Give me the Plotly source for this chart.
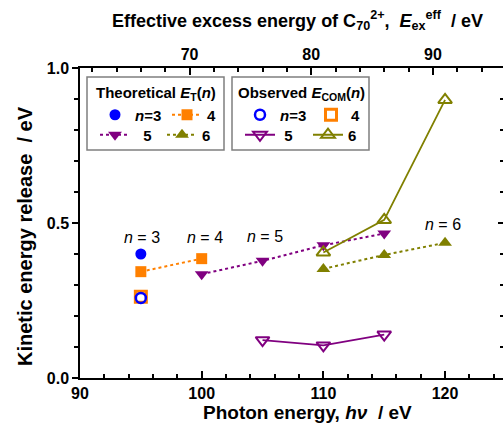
import plotly.graph_objects as go

# ---------------- data ----------------
photon_theo3 = [95]
ker_theo3 = [0.40]
photon_theo4 = [95, 100]
ker_theo4 = [0.343, 0.385]
photon_theo5 = [100, 105, 110, 115]
ker_theo5 = [0.335, 0.378, 0.428, 0.466]
photon_theo6 = [110, 115, 120]
ker_theo6 = [0.352, 0.397, 0.436]

photon_obs3 = [95]
ker_obs3 = [0.258]
photon_obs4 = [95]
ker_obs4 = [0.262]
photon_obs5 = [105, 110, 115]
ker_obs5 = [0.122, 0.105, 0.140]
photon_obs6 = [110, 115, 120]
ker_obs6 = [0.405, 0.510, 0.897]

label_text = ["<i>n</i> = 3", "<i>n</i> = 4", "<i>n</i> = 5", "<i>n</i> = 6"]
label_x = [95.1, 100.3, 105.2, 119.85]
label_y = [0.452, 0.452, 0.458, 0.494]

x_range = [90, 124.76]
excess_offset = 29.0   # photon energy - effective excess energy
x_ticks = [90, 100, 110, 120]
top_ticks = [70, 80, 90]

BLUE = "#0000ff"
ORANGE = "#ff8000"
PURPLE = "#800080"
OLIVE = "#808000"
FONT = "Arial, Liberation Sans, sans-serif"
NB = "\u00a0"

W, H = 503, 427
L, R, T, B = 80, 0, 68, 49
PW, PH = W - L - R, H - T - B


def px(xp):
    return (xp - L) / PW


def py(yp):
    return (H - B - yp) / PH


fig = go.Figure()

# theoretical
fig.add_trace(go.Scatter(x=photon_theo3, y=ker_theo3, mode="markers", name="<i>n</i>=3",
                         marker=dict(symbol="circle", size=11, color=BLUE),
                         legend="legend", legendrank=1))
fig.add_trace(go.Scatter(x=photon_theo4, y=ker_theo4, mode="lines+markers", name="4",
                         marker=dict(symbol="square", size=11, color=ORANGE),
                         line=dict(color=ORANGE, width=2, dash="3px,3px"),
                         legend="legend", legendrank=2))
fig.add_trace(go.Scatter(x=photon_theo5, y=ker_theo5, mode="lines+markers", name=NB + NB + "5",
                         marker=dict(symbol="triangle-down", size=12, color=PURPLE),
                         line=dict(color=PURPLE, width=2, dash="3px,3px"),
                         legend="legend2", legendrank=1))
fig.add_trace(go.Scatter(x=photon_theo6, y=ker_theo6, mode="lines+markers", name="6",
                         marker=dict(symbol="triangle-up", size=12, color=OLIVE),
                         line=dict(color=OLIVE, width=2, dash="3px,3px"),
                         legend="legend2", legendrank=2))
# observed
fig.add_trace(go.Scatter(x=photon_obs5, y=ker_obs5, mode="lines+markers", name=NB + "5",
                         marker=dict(symbol="triangle-down-open", size=12, color=PURPLE,
                                     line=dict(width=2)),
                         line=dict(color=PURPLE, width=1.8),
                         legend="legend4", legendrank=1))
fig.add_trace(go.Scatter(x=photon_obs6, y=ker_obs6, mode="lines+markers", name="6",
                         marker=dict(symbol="triangle-up-open", size=12, color=OLIVE,
                                     line=dict(width=2)),
                         line=dict(color=OLIVE, width=1.8),
                         legend="legend4", legendrank=2))
fig.add_trace(go.Scatter(x=photon_obs4, y=ker_obs4, mode="markers", name="4",
                         marker=dict(symbol="square-open", size=11, color=ORANGE,
                                     line=dict(width=3)),
                         legend="legend3", legendrank=2))
fig.add_trace(go.Scatter(x=photon_obs3, y=ker_obs3, mode="markers", name="<i>n</i>=3",
                         marker=dict(symbol="circle-open", size=10, color=BLUE,
                                     line=dict(width=2.5)),
                         legend="legend3", legendrank=1))

# helper traces creating the top x axis and right y axis
fig.add_trace(go.Scatter(x=[], y=[], xaxis="x2", yaxis="y", showlegend=False, hoverinfo="skip"))
fig.add_trace(go.Scatter(x=[], y=[], xaxis="x", yaxis="y2", showlegend=False, hoverinfo="skip"))

for t, xx, yy in zip(label_text, label_x, label_y):
    fig.add_annotation(x=xx, y=yy, text=t, showarrow=False,
                       font=dict(family=FONT, size=16, color="black"),
                       xanchor="center", yanchor="middle")

tickfont = dict(family=FONT, size=16, color="black", weight="bold")
axcommon = dict(showgrid=False, zeroline=False, showline=True, linecolor="black",
                linewidth=1.5, tickcolor="black", tickwidth=1.5, tickfont=tickfont)

legfont = dict(family=FONT, size=15, color="black", weight="bold")
legcommon = dict(orientation="h", bgcolor="rgba(0,0,0,0)", borderwidth=0, font=legfont,
                 xanchor="left", yanchor="middle", entrywidthmode="pixels",
                 itemclick=False, itemdoubleclick=False, tracegroupgap=0)

fig.update_layout(
    width=W, height=H,
    margin=dict(l=L, r=R, t=T, b=B, pad=0),
    paper_bgcolor="white", plot_bgcolor="white",
    font=dict(family=FONT, color="black"),
    showlegend=True,
    xaxis=dict(range=x_range, tickvals=x_ticks, ticks="inside", ticklen=7,
               minor=dict(dtick=2, tick0=90, ticks="inside", ticklen=4,
                          tickcolor="black", tickwidth=1.5),
               **axcommon),
    xaxis2=dict(overlaying="x", side="top", anchor="y",
                range=[x_range[0] - excess_offset, x_range[1] - excess_offset],
                tickvals=top_ticks, ticks="inside", ticklen=7,
                minor=dict(dtick=2, tick0=60, ticks="inside", ticklen=4,
                           tickcolor="black", tickwidth=1.5),
                **axcommon),
    yaxis=dict(range=[0, 1], dtick=0.5, tick0=0, tickformat=".1f", ticks="outside", ticklen=6,
               minor=dict(dtick=0.1, ticks="outside", ticklen=4,
                          tickcolor="black", tickwidth=1.5),
               **axcommon),
    yaxis2=dict(overlaying="y", side="right", anchor="x", range=[0, 1], dtick=0.5,
                showticklabels=False, showgrid=False, zeroline=False, showline=False,
                ticks="inside", ticklen=5, tickcolor="black", tickwidth=1.5,
                minor=dict(dtick=0.1, ticks="inside", ticklen=3,
                           tickcolor="black", tickwidth=1.5)),
    legend=dict(x=px(95), y=py(115), entrywidth=27, **legcommon),
    legend2=dict(x=px(95), y=py(135), entrywidth=22, **legcommon),
    legend3=dict(x=px(240), y=py(115), entrywidth=26, **legcommon),
    legend4=dict(x=px(240), y=py(135), entrywidth=23, **legcommon),
)

# legend frames
for x0, x1 in [(87, 224), (232, 369)]:
    fig.add_shape(type="rect", xref="paper", yref="paper",
                  x0=px(x0), x1=px(x1), y0=py(150), y1=py(77),
                  line=dict(color="#7f7f7f", width=1.5), fillcolor="white", layer="below")

titlefont = dict(family=FONT, size=15, color="black", weight="bold")
fig.add_annotation(xref="paper", yref="paper", x=px(156), y=py(93),
                   text="Theoretical <i>E</i><sub>T</sub>(<i>n</i>)", showarrow=False,
                   font=titlefont, xanchor="center", yanchor="middle")
fig.add_annotation(xref="paper", yref="paper", x=px(301), y=py(93),
                   text="Observed <i>E</i><sub>COM</sub>(<i>n</i>)", showarrow=False,
                   font=titlefont, xanchor="center", yanchor="middle")

# axis titles
fig.add_annotation(xref="paper", yref="paper", x=px(307), y=py(413),
                   text="Photon energy, <i>hν</i>  / eV", showarrow=False,
                   font=dict(family=FONT, size=19, color="black", weight="bold"),
                   xanchor="center", yanchor="middle")
fig.add_annotation(xref="paper", yref="paper", x=px(297), y=py(20),
                   text="Effective excess energy of C<sub>70</sub><sup>2+</sup>,  <i>E</i><sub>ex</sub><sup>eff</sup>  / eV",
                   showarrow=False,
                   font=dict(family=FONT, size=18, color="black", weight="bold"),
                   xanchor="center", yanchor="middle")
fig.add_annotation(xref="paper", yref="paper", x=px(25), y=py(236),
                   text="Kinetic energy release  / eV", showarrow=False, textangle=-90,
                   font=dict(family=FONT, size=20, color="black", weight="bold"),
                   xanchor="center", yanchor="middle")

fig.write_html("out.html")
